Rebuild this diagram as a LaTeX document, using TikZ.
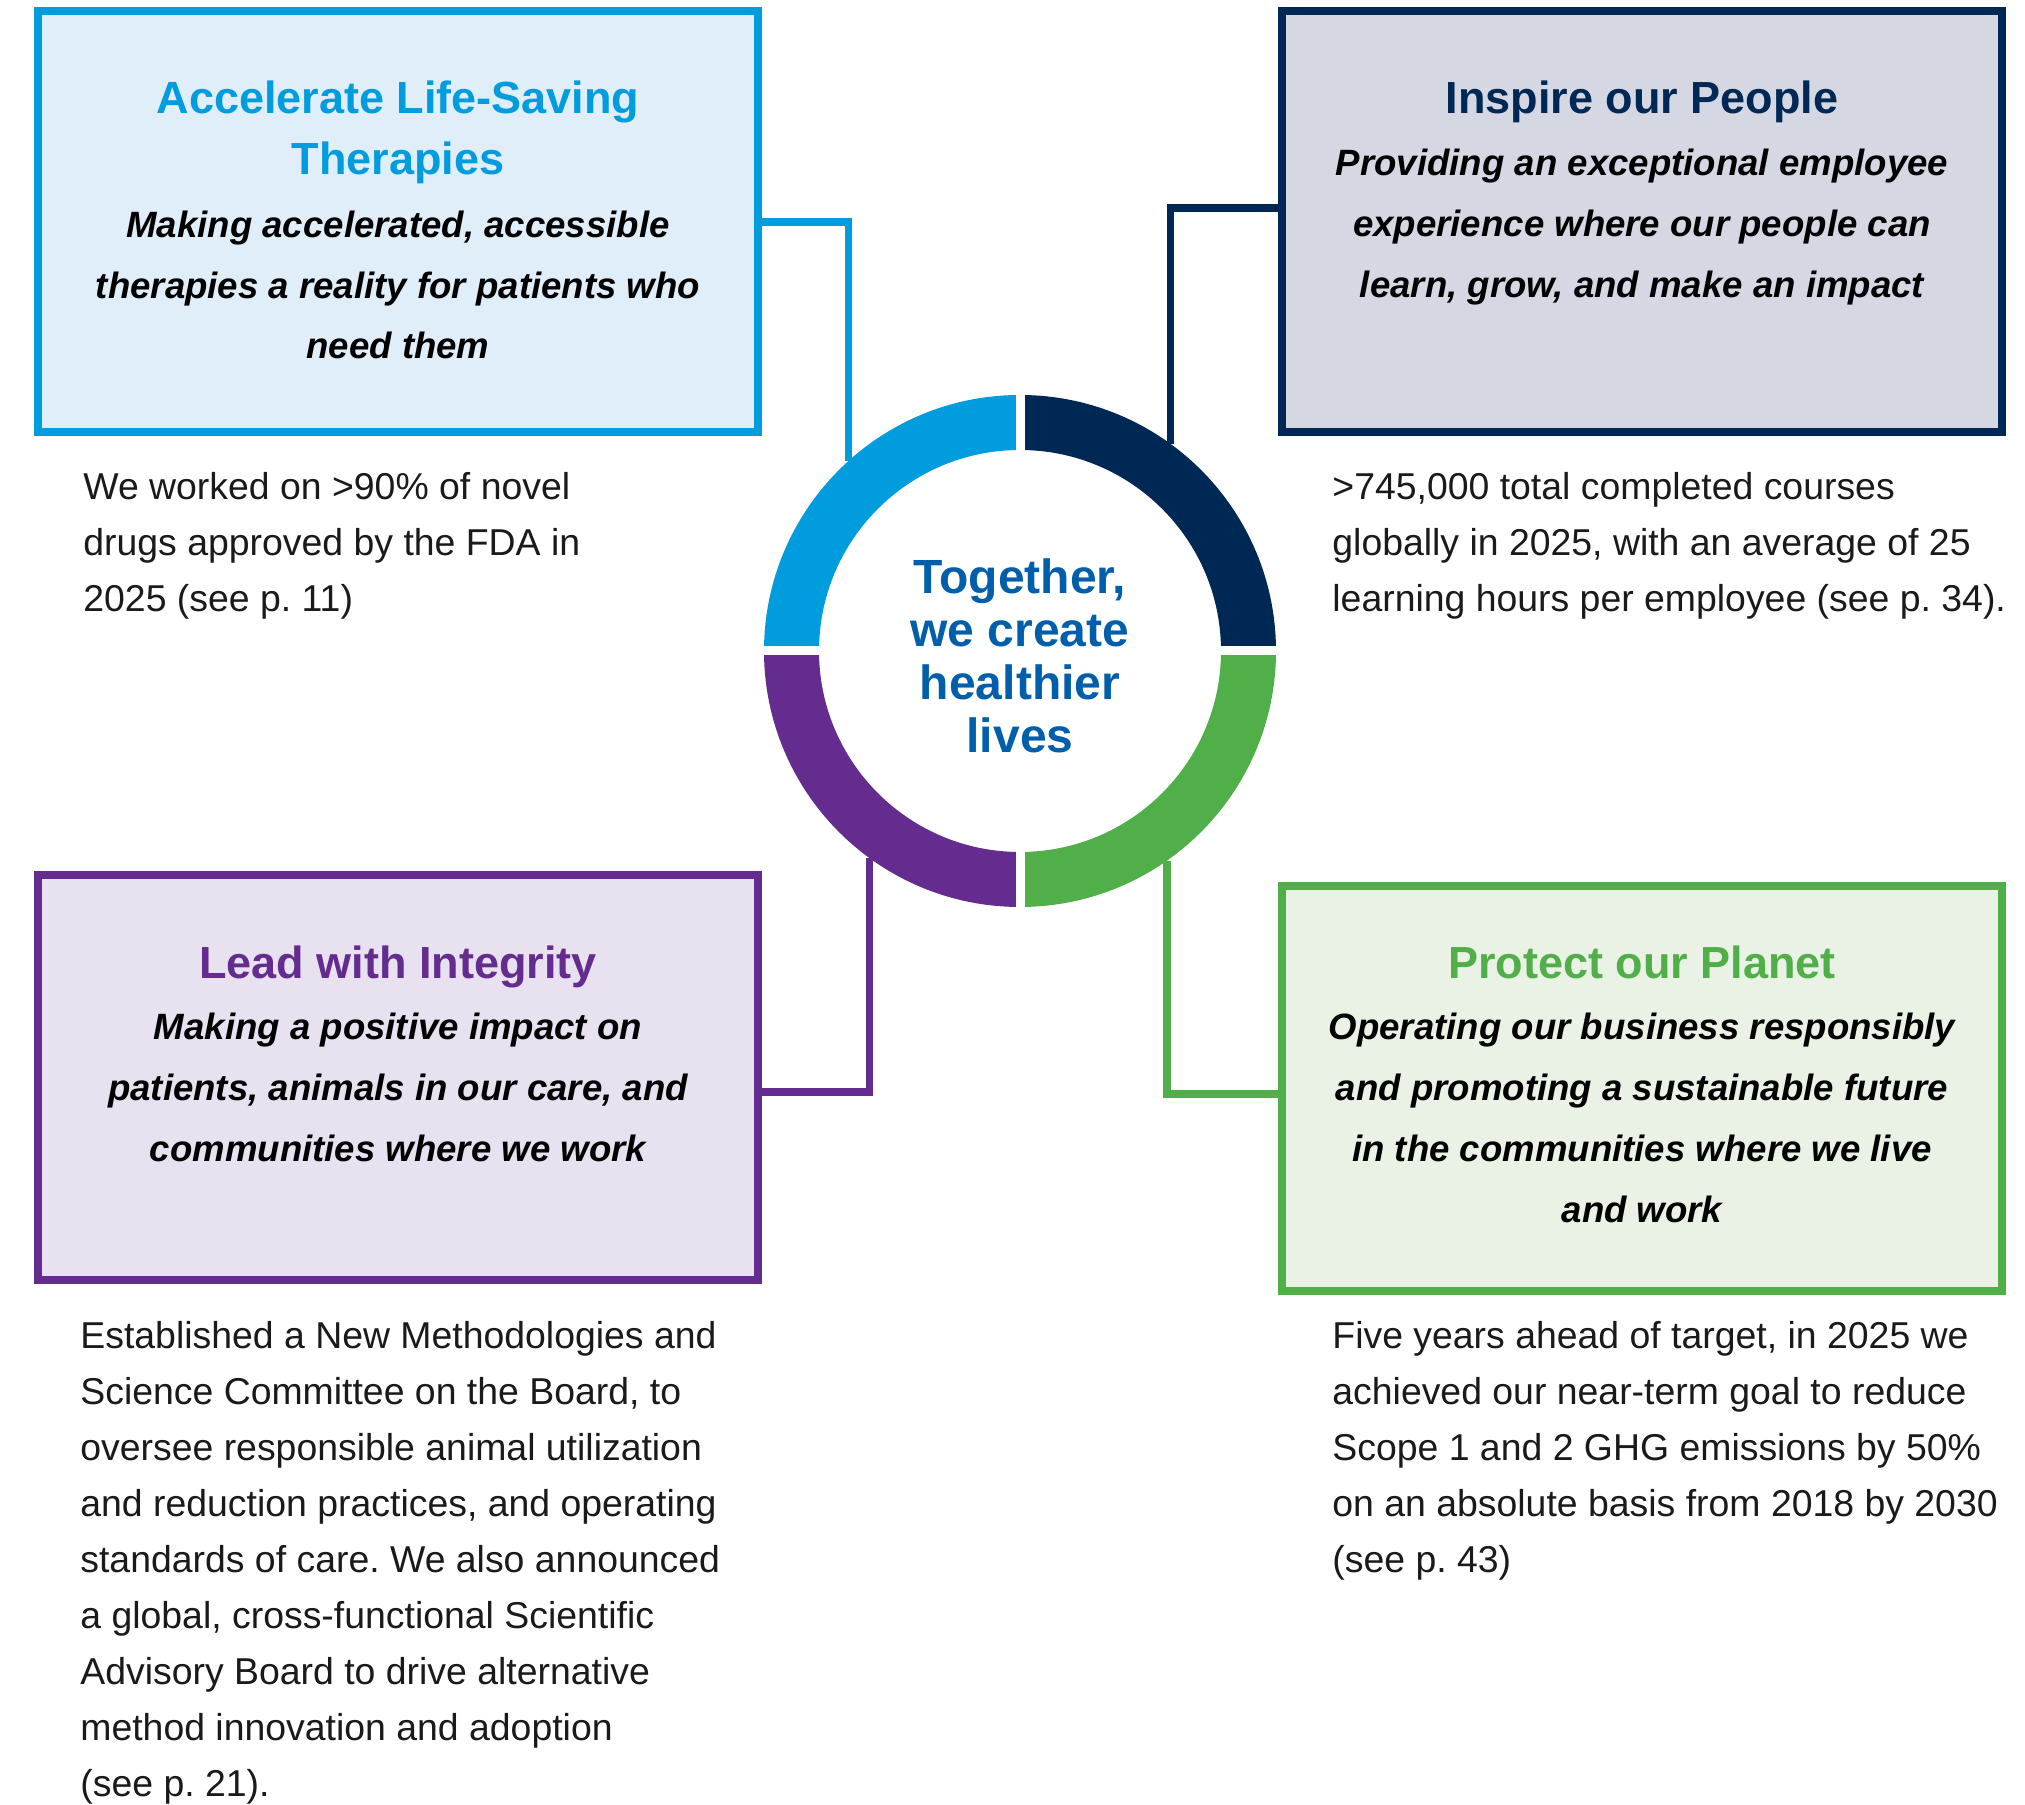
\documentclass[tikz,border=0pt]{standalone}
\usepackage{fontspec}
\setmainfont{Liberation Sans}
\frenchspacing
\definecolor{blueC}{HTML}{009CDE}
\definecolor{blueL}{HTML}{E0EEF9}
\definecolor{navyC}{HTML}{002855}
\definecolor{navyL}{HTML}{D5D7E3}
\definecolor{purpC}{HTML}{652C90}
\definecolor{purpL}{HTML}{E7E1F0}
\definecolor{greenC}{HTML}{50AF48}
\definecolor{greenL}{HTML}{EAF2E6}
\definecolor{hubtext}{HTML}{005EAA}
\definecolor{bodyC}{HTML}{1A1A1A}
\newcommand\cblk[2]{\vtop{\baselineskip=#1\lineskiplimit=-100pt\lineskip=0pt\halign{\hfil##\hfil\cr#2\crcr}}}
\newcommand\lblk[2]{\vtop{\baselineskip=#1\lineskiplimit=-100pt\lineskip=0pt\halign{##\hfil\cr#2\crcr}}}
\tikzset{
  pbox/.style={draw=#1, line width=4pt, rectangle, minimum width=360pt, inner sep=0pt},
  pconn/.style={draw=#1, line width=3.75pt},
  ptitle/.style={anchor=base, text=#1, font=\fontsize{22.5pt}{30.5pt}\selectfont\bfseries, inner sep=0pt},
  psub/.style={anchor=base, text=black, font=\fontsize{18.3pt}{30pt}\selectfont\bfseries\itshape, inner sep=0pt},
  pbody/.style={anchor=base west, text=bodyC, font=\fontsize{18.7pt}{28pt}\selectfont, inner sep=0pt},
}
\begin{document}
\begin{tikzpicture}[x=0.5pt,y=0.5pt]
\fill[white] (0,0) rectangle (2025,1805);
\useasboundingbox (0,0) rectangle (2025,1805);

% hub
\node[circle, minimum size=256pt, inner sep=0pt, outer sep=0pt] (hub) at (1020,1154) {};

% connector levels
\coordinate (y1) at (0,1583);
\coordinate (y2) at (0,1597);
\coordinate (y3) at (0,713);
\coordinate (y4) at (0,711);

% boxes
\node[pbox=blueC, fill=blueL, minimum height=210.5pt] (box1) at (398,1583.5) {};
\node[pbox=navyC, fill=navyL, minimum height=210.5pt] (box2) at (1642,1583.5) {};
\node[pbox=purpC, fill=purpL, minimum height=202.5pt] (box3) at (398,727.5) {};
\node[pbox=greenC, fill=greenL, minimum height=202.5pt] (box4) at (1642,716.5) {};

% connectors
\draw[pconn=blueC] (box1.east |- y1) -| (hub.132.2);
\draw[pconn=navyC] (box2.west |- y2) -| (hub.54.4);
\draw[pconn=purpC] (box3.east |- y3) -| (hub.234.4);
\draw[pconn=greenC] (box4.west |- y4) -| (hub.305.6);

% ring
\fill[blueC] (1020,1154) ++(90:256) arc[start angle=90,end angle=180,radius=256] -- ++(55,0) arc[start angle=180,end angle=90,radius=201] -- cycle;
\fill[navyC] (1020,1154) ++(0:256) arc[start angle=0,end angle=90,radius=256] -- ++(0,-55) arc[start angle=90,end angle=0,radius=201] -- cycle;
\fill[purpC] (1020,1154) ++(180:256) arc[start angle=180,end angle=270,radius=256] -- ++(0,55) arc[start angle=270,end angle=180,radius=201] -- cycle;
\fill[greenC] (1020,1154) ++(270:256) arc[start angle=270,end angle=360,radius=256] -- ++(-55,0) arc[start angle=360,end angle=270,radius=201] -- cycle;
\fill[white] (1015.5,894) rectangle (1024.5,1414);
\fill[white] (760,1149.5) rectangle (1280,1158.5);

\node[anchor=base, text=hubtext, font=\fontsize{24pt}{26.5pt}\selectfont\bfseries, inner sep=0pt] (ctext) at (1020,1211.5) {\cblk{26.5pt}{Together,\cr we create\cr healthier\cr lives}};

% box 1
\node[ptitle=blueC] (t1) at (398,1691) {\cblk{30.5pt}{Accelerate Life-Saving\cr Therapies}};
\node[psub] (s1) at (398,1567) {\cblk{30.25pt}{Making accelerated, accessible\cr therapies a reality for patients who\cr need them}};
\node[pbody] (b1) at (83,1305) {\lblk{28pt}{We worked on >90\% of novel\cr drugs approved by the FDA in\cr 2025 (see p. 11)}};

% box 2
\node[ptitle=navyC] (t2) at (1642,1691) {Inspire our People};
\node[psub] (s2) at (1642,1629) {\cblk{30.5pt}{Providing an exceptional employee\cr experience where our people can\cr learn, grow, and make an impact}};
\node[pbody] (b2) at (1332,1305) {\lblk{28pt}{>745,000 total completed courses\cr globally in 2025, with an average of 25\cr learning hours per employee (see p. 34).}};

% box 3
\node[ptitle=purpC] (t3) at (398,826) {Lead with Integrity};
\node[psub] (s3) at (398,765) {\cblk{30.5pt}{Making a positive impact on\cr patients, animals in our care, and\cr communities where we work}};
\node[pbody] (b3) at (80,456) {\lblk{28pt}{Established a New Methodologies and\cr Science Committee on the Board, to\cr oversee responsible animal utilization\cr and reduction practices, and operating\cr standards of care. We also announced\cr a global, cross-functional Scientific\cr Advisory Board to drive alternative\cr method innovation and adoption\cr (see p. 21).}};

% box 4
\node[ptitle=greenC] (t4) at (1642,826) {Protect our Planet};
\node[psub] (s4) at (1642,765) {\cblk{30.5pt}{Operating our business responsibly\cr and promoting a sustainable future\cr in the communities where we live\cr and work}};
\node[pbody] (b4) at (1332,456) {\lblk{28pt}{Five years ahead of target, in 2025 we\cr achieved our near-term goal to reduce\cr Scope 1 and 2 GHG emissions by 50\%\cr on an absolute basis from 2018 by 2030\cr (see p. 43)}};
\end{tikzpicture}
\end{document}
